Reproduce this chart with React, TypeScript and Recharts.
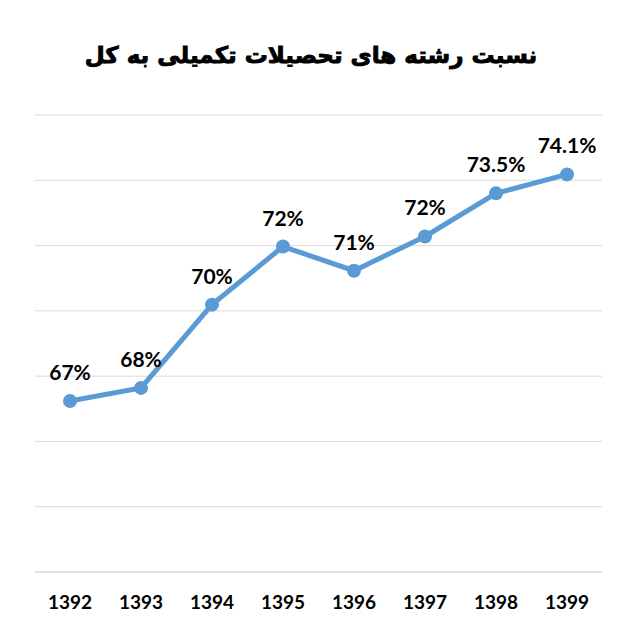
import { LineChart, Line, XAxis, YAxis, CartesianGrid, LabelList } from "recharts"

const years = ["1392", "1393", "1394", "1395", "1396", "1397", "1398", "1399"]
const shares = [67.24, 67.64, 70.19, 71.97, 71.23, 72.28, 73.6, 74.18]
const shareLabels = ["67%", "68%", "70%", "72%", "71%", "72%", "73.5%", "74.1%"]
const yTicks = [62, 64, 66, 68, 70, 72, 74, 76]

const title = "نسبت رشته های تحصیلات تکمیلی به کل"

const data = years.map((year, i) => ({
  year,
  share: shares[i],
  label: shareLabels[i],
}))

export default function App() {
  return (
    <div style={{ position: "absolute", left: 0, top: 0, width: 622, height: 630, background: "#fff" }}>
      <div
        style={{
          position: "absolute",
          top: 42,
          left: 0,
          width: 622,
          textAlign: "center",
          fontFamily: "'DejaVu Sans', sans-serif",
          fontWeight: "bold",
          fontSize: 23,
          direction: "rtl",
          color: "#000",
          WebkitTextStroke: "0.9px #000",
        }}
      >
        {title}
      </div>
      <LineChart width={622} height={630} data={data} margin={{ top: 115, right: 20, bottom: 0, left: 35 }}>
        <CartesianGrid vertical={false} stroke="#d9d9d9" strokeWidth={1} />
        <XAxis
          dataKey="year"
          height={58}
          padding={{ left: 35, right: 35 }}
          axisLine={{ stroke: "#d9d9d9" }}
          tickLine={false}
          tickMargin={18}
          tick={{ fill: "#000", fontSize: 19, fontWeight: "bold", fontFamily: "Lato, sans-serif" }}
          interval={0}
        />
        <YAxis hide domain={[62, 76]} ticks={yTicks} />
        <Line
          type="linear"
          dataKey="share"
          stroke="#5b9bd5"
          strokeWidth={5}
          dot={{ r: 7, fill: "#5b9bd5", stroke: "#5b9bd5", strokeWidth: 0 }}
          isAnimationActive={false}
        >
          <LabelList
            dataKey="label"
            position="top"
            offset={21}
            fill="#000"
            fontSize={21}
            fontWeight="bold"
            fontFamily="Lato, sans-serif"
          />
        </Line>
      </LineChart>
    </div>
  )
}
